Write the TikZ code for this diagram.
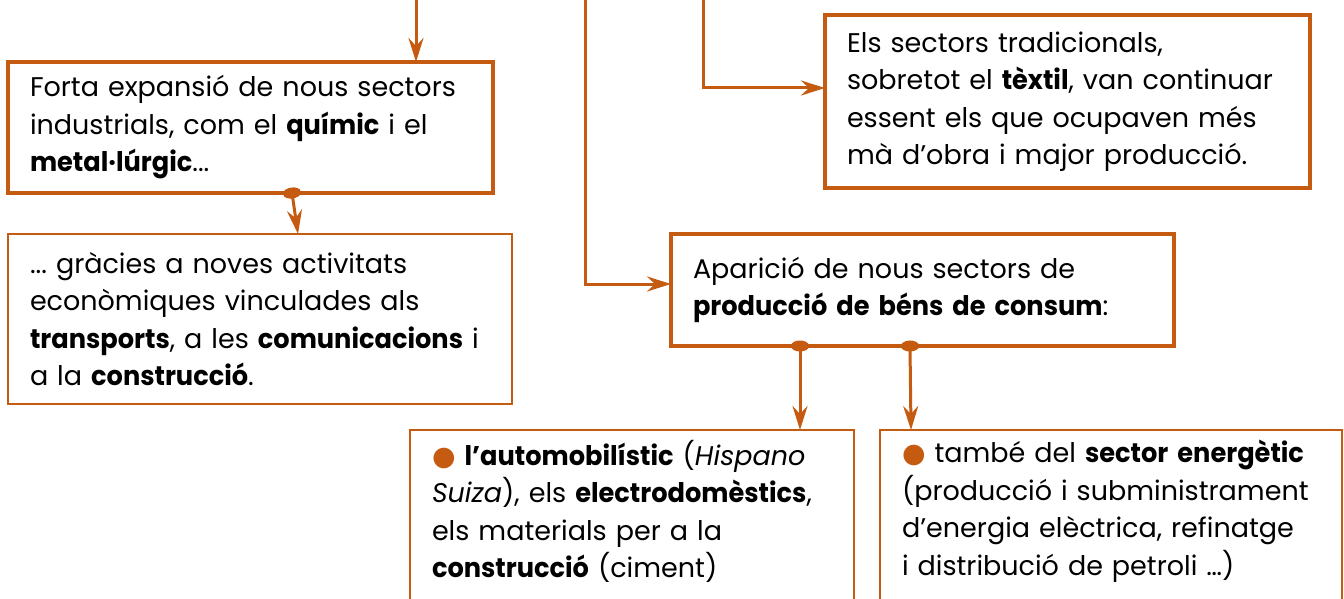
\documentclass[tikz,border=0pt]{standalone}
\usepackage{fontspec}
\setmainfont{Poppins}[BoldFeatures={FakeStretch=0.95}]
\newfontfamily\dejavu{DejaVu Sans}
\usetikzlibrary{arrows.meta}
\definecolor{rust}{HTML}{C55A11}
\newcommand{\blt}{{\dejavu\color{rust}●}}

\begin{document}
\begin{tikzpicture}[x=1pt,y=-1pt,
  box/.style={draw=rust, line width=#1, outer sep=0pt, inner xsep=22pt,
    align=left, font=\fontsize{27}{37.5}\selectfont\frenchspacing, anchor=north west},
  box/.default=4.5pt,
  link/.style={draw=rust, line width=3pt, -{Stealth[length=24pt,width=15pt,inset=8pt]}},
  fork/.style={link, {Circle[length=11pt,width=18pt]}-{Stealth[length=24pt,width=15pt,inset=8pt]}, shorten <=-5.5pt}]
\useasboundingbox (0,0) rectangle (1344,599);

\coordinate (srcA) at (416,0);
\coordinate (srcD) at (585,0);
\coordinate (srcC) at (703,0);

\node[box, minimum width=485, minimum height=131, text width=441] (expansio) at (8,62)
  {Forta expansió de nous sectors\\ industrials, com el \textbf{químic} i el\\ \textbf{metal·lúrgic}...};
\node[box=2.5pt, minimum width=504, minimum height=170, text width=460] (gracies) at (8,234)
  {... gràcies a noves activitats\\ econòmiques vinculades als\\ \mbox{\textbf{transports}, a les \textbf{comunicacions} i}\\ a la \textbf{construcció}.};
\node[box, minimum width=485, minimum height=173, text width=441] (tradicionals) at (825,15)
  {Els sectors tradicionals,\\ sobretot el \textbf{tèxtil}, van continuar\\ essent els que ocupaven més\\ mà d’obra i major producció.};
\node[box, minimum width=503, minimum height=112, text width=459] (aparicio) at (671,234)
  {Aparició de nous sectors de\\ \textbf{producció de béns de consum}:};

% caixes obertes per sota
\node[box, draw=none, minimum width=444, text width=400, inner ysep=10pt] (auto) at (410,430)
  {\blt\ \textbf{l’automobilístic} (\textit{Hispano}\\ \mbox{\textit{Suiza}), els \textbf{electrodomèstics},}\\ els materials per a la\\ \textbf{construcció} (ciment)};
\node[box, draw=none, minimum width=462, text width=418, inner ysep=10pt] (energia) at (880,430)
  {\mbox{\blt\ també del \textbf{sector energètic}}\\ (producció i subministrament\\ d’energia elèctrica, refinatge\\ i distribució de petroli …)};
\draw[rust, line width=2.5pt] (410,620) |- (854,430) -- (854,620);
\draw[rust, line width=2.5pt] (880,620) |- (1342,430) -- (1342,620);

\draw[link] (srcA) -- (expansio.north -| srcA);
\draw[fork] (expansio.south -| 292,0) -- (gracies.north -| 298,0);
\draw[link] (srcD) |- (aparicio.west |- 0,284);
\draw[link] (srcC) |- (tradicionals.west |- 0,88);
\draw[fork] (aparicio.south -| 800,0) -- (auto.north -| 800,0);
\draw[fork] (aparicio.south -| 910,0) -- (energia.north -| 911,0);
\end{tikzpicture}
\end{document}
